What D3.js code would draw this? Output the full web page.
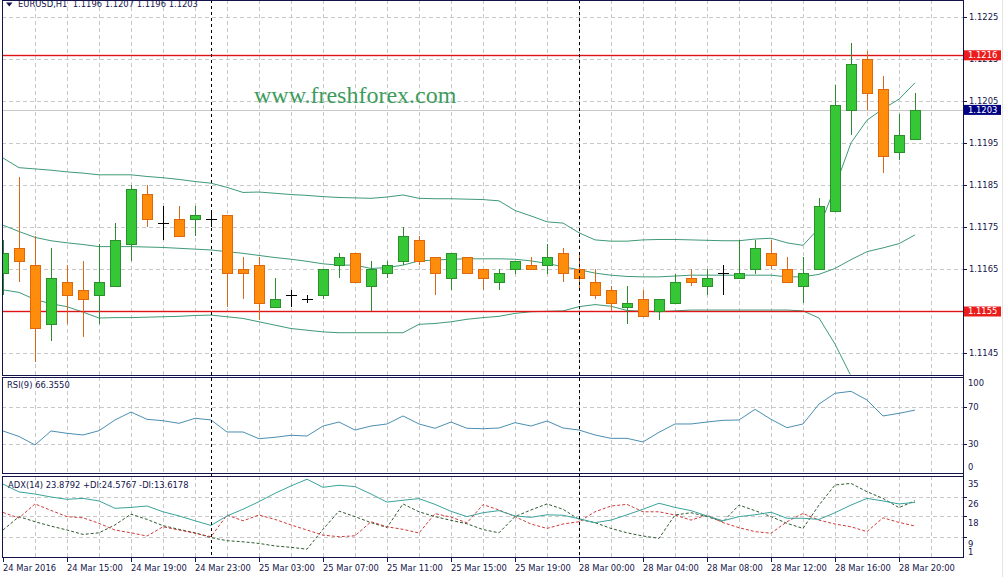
<!DOCTYPE html>
<html><head><meta charset="utf-8">
<script src="https://cdn.jsdelivr.net/npm/d3@7"></script>
<style>html,body{margin:0;padding:0;background:#fff;overflow:hidden}</style>
</head><body>
<svg id="c" width="1005" height="577"></svg>
<script>
// ---------------- DATA ----------------
const symbolTitle = "EURUSD,H1  1.1196 1.1207 1.1196 1.1203";
const rsiTitle = "RSI(9) 66.3550";
const adxTitle = "ADX(14) 23.8792 +DI:24.5767 -DI:13.6178";
const watermark = "www.freshforex.com";

// time axis labels, one every 4 hourly bars (bar index 0,4,8,...)
const timeLabels = ["24 Mar 2016","24 Mar 15:00","24 Mar 19:00","24 Mar 23:00","25 Mar 03:00",
  "25 Mar 07:00","25 Mar 11:00","25 Mar 15:00","25 Mar 19:00","28 Mar 00:00","28 Mar 04:00",
  "28 Mar 08:00","28 Mar 12:00","28 Mar 16:00","28 Mar 20:00"];
const labelEvery = 4;
const daySeparators = [13, 36];   // bars that open a new day (25 Mar 00:00, 28 Mar 00:00)

const open = [1.1164,1.1170,1.1166,1.1152,1.1162,1.1160,1.1159,1.1161,1.1171,1.1183,
  1.1176,1.1177,1.1177,1.1177,1.1178,1.1165,1.1166,1.1156,1.1159,1.1158,
  1.1159,1.1166,1.1169,1.1161,1.1164,1.1167,1.1172,1.1168,1.1163,1.1168,
  1.1165,1.1162,1.1165,1.1166,1.1166,1.1169,1.1165,1.1162,1.1160,1.1156,
  1.1158,1.1155,1.1157,1.1163,1.1161,1.1164,1.1163,1.1165,1.1169,1.1165,
  1.1161,1.1165,1.1179,1.1203,1.1215,1.1208,1.1193,1.1196];
const high = [1.1172,1.1187,1.1173,1.1170,1.1166,1.1167,1.1171,1.1176,1.1185,1.1185,
  1.1180,1.1180,1.1180,1.1179,1.1178,1.1168,1.1168,1.1163,1.1160,1.1159,
  1.1165,1.1169,1.1169,1.1167,1.1167,1.1175,1.1173,1.1168,1.1169,1.1168,
  1.1165,1.1165,1.1167,1.1168,1.1171,1.1170,1.1169,1.1165,1.1161,1.1161,
  1.1160,1.1158,1.1164,1.1165,1.1165,1.1166,1.1172,1.1172,1.1172,1.1168,
  1.1168,1.1182,1.1209,1.1219,1.1217,1.1211,1.1202,1.1207];
const low = [1.1159,1.1162,1.1143,1.1148,1.1152,1.1149,1.1152,1.1161,1.1167,1.1175,
  1.1172,1.1173,1.1173,1.1175,1.1156,1.1158,1.1153,1.1156,1.1156,1.1157,
  1.1158,1.1163,1.1162,1.1155,1.1163,1.1166,1.1166,1.1159,1.1160,1.1164,
  1.1160,1.1160,1.1164,1.1165,1.1164,1.1162,1.1160,1.1158,1.1155,1.1152,
  1.1154,1.1153,1.1157,1.1161,1.1159,1.1159,1.1163,1.1164,1.1165,1.1162,
  1.1157,1.1165,1.1179,1.1197,1.1203,1.1188,1.1191,1.1196];
const close = [1.1169,1.1167,1.1151,1.1163,1.1159,1.1158,1.1162,1.1172,1.1184,1.1177,
  1.1176,1.1173,1.1178,1.1177,1.1164,1.1164,1.1157,1.1158,1.1159,1.1158,
  1.1165,1.1168,1.1162,1.1165,1.1166,1.1173,1.1167,1.1164,1.1169,1.1164,
  1.1163,1.1164,1.1167,1.1165,1.1168,1.1164,1.1163,1.1159,1.1157,1.1157,
  1.1154,1.1158,1.1162,1.1162,1.1163,1.1164,1.1164,1.1170,1.1166,1.1162,
  1.1164,1.1180,1.1204,1.1214,1.1207,1.1192,1.1197,1.1203];

const bbUpper = [1.11915,1.11892,1.11889,1.11886,1.11882,1.11879,1.11875,1.11875,1.11875,1.11871,
  1.11868,1.11864,1.11859,1.11855,1.11845,1.11833,1.11834,1.11831,1.11828,1.11826,
  1.11823,1.11821,1.11820,1.11819,1.11822,1.11827,1.11819,1.11818,1.11818,1.11817,
  1.11816,1.11813,1.11790,1.11777,1.11763,1.11760,1.11737,1.11720,1.11717,1.11717,
  1.11720,1.11721,1.11721,1.11720,1.11719,1.11718,1.11718,1.11722,1.11724,1.11713,
  1.11707,1.11748,1.11846,1.11951,1.12005,1.12032,1.12055,1.12094];
const bbMiddle = [1.11755,1.11740,1.11726,1.11718,1.11713,1.11709,1.11704,1.11704,1.11704,1.11703,
  1.11702,1.11700,1.11698,1.11696,1.11692,1.11688,1.11683,1.11678,1.11674,1.11669,
  1.11663,1.11660,1.11660,1.11652,1.11654,1.11660,1.11670,1.11672,1.11674,1.11675,
  1.11675,1.11675,1.11674,1.11670,1.11664,1.11656,1.11649,1.11641,1.11636,1.11633,
  1.11632,1.11632,1.11634,1.11636,1.11636,1.11636,1.11636,1.11636,1.11636,1.11632,
  1.11632,1.11638,1.11652,1.11673,1.11692,1.11701,1.11711,1.11732];
const bbLower = [1.11601,1.11595,1.11578,1.11568,1.11561,1.11548,1.11534,1.11535,1.11535,1.11536,
  1.11537,1.11538,1.11540,1.11541,1.11537,1.11533,1.11525,1.11517,1.11509,1.11505,
  1.11501,1.11499,1.11499,1.11499,1.11499,1.11499,1.11519,1.11521,1.11525,1.11531,
  1.11535,1.11538,1.11545,1.11549,1.11550,1.11551,1.11561,1.11566,1.11562,1.11552,
  1.11550,1.11549,1.11551,1.11553,1.11553,1.11553,1.11553,1.11553,1.11553,1.11553,
  1.11551,1.11534,1.11472,1.11396,1.11378,1.11370,1.11367,1.11369];

const rsi = [44.0,38.1,29.0,44.0,41.5,39.7,44.3,55.8,64.3,56.5,
  55.0,52.2,57.6,55.8,42.9,42.9,35.7,37.2,39.4,38.6,
  49.3,53.6,45.0,49.3,51.5,60.1,51.5,46.9,53.6,46.9,
  46.4,47.2,52.9,49.3,54.7,47.2,45.0,39.7,36.1,36.1,
  32.2,42.6,51.5,51.5,53.6,55.4,55.8,67.2,56.5,47.5,
  51.5,72.9,84.4,86.5,77.2,60.1,62.9,66.355];
const adx = [31.8,28.4,27.5,26.2,25.2,25.6,24.5,21.3,21.7,22.3,
  19.8,18.0,15.9,13.9,18.0,20.9,24.2,27.8,31.0,33.9,
  30.4,31.3,30.7,27.5,24.0,24.8,25.5,23.0,20.0,17.7,
  19.4,20.3,18.0,17.4,18.5,18.3,16.8,15.1,16.2,18.5,
  20.9,23.5,21.7,20.3,18.0,15.9,17.7,18.5,19.6,17.0,
  17.0,16.5,19.4,22.7,25.6,24.5,23.2,23.8792];
const plusDI = [11.9,17.7,15.5,13.6,11.9,10.0,10.7,14.1,18.8,16.5,
  13.8,12.2,10.7,8.6,7.3,6.8,6.1,5.0,4.4,3.6,
  12.2,20.1,17.7,15.1,13.0,23.2,19.8,17.7,16.1,14.6,
  12.1,10.7,17.7,20.6,23.2,20.9,16.5,15.1,12.6,10.7,
  9.3,8.3,18.4,19.4,17.7,15.5,22.7,20.3,17.7,14.8,
  12.6,22.7,31.4,32.1,28.5,25.6,21.6,24.5767];
const minusDI = [19.5,17.1,23.2,20.4,17.7,17.2,14.8,11.9,10.7,9.3,
  13.3,11.9,10.5,9.0,18.4,15.9,18.4,16.5,14.1,11.9,
  9.7,9.0,9.4,15.5,13.3,12.2,10.6,19.0,17.5,15.0,
  22.9,20.6,17.7,14.5,12.6,14.5,15.5,19.8,22.3,23.0,
  19.8,19.8,18.4,16.2,18.4,15.1,12.9,11.2,10.5,15.5,
  19.1,16.2,14.5,13.3,11.2,17.2,15.2,13.6178];

const priceTicks = [1.1225,1.1215,1.1205,1.1195,1.1185,1.1175,1.1165,1.1155,1.1145];
const rsiTicks = [100,70,30,0];
const rsiGrid = [70,30];
const adxTicks = [35,26,18,9,1];
const adxGrid = [26,18,9];
const levelLines = [1.1216, 1.1155];
const bidPrice = 1.1203;

// ---------------- LAYOUT ----------------
const L = 2, R = 963;
const main = {top: 0, bottom: 374.5};
const rsiP = {top: 376.5, bottom: 473};
const adxP = {top: 475.5, bottom: 557};
const FONT = "'DejaVu Sans', Verdana, sans-serif";
const navy = "#14144a";

const svg = d3.select("#c");
const x = d3.scaleLinear().domain([0, 60]).range([3, 963]);
const y = d3.scaleLinear().domain([1.1225, 1.1145]).range([17.3, 353.3]);
const yR = d3.scaleLinear().domain([0, 100]).range([472, 378.75]);
const yA = d3.scaleLinear().domain([0, 35.3]).range([557.5, 476]);
const n = close.length;
const idx = d3.range(n);

const defs = svg.append("defs");
[["cm", main], ["cr", rsiP], ["ca", adxP]].forEach(([id, p]) => {
  defs.append("clipPath").attr("id", id).append("rect")
    .attr("x", L).attr("y", p.top).attr("width", R - L).attr("height", p.bottom - p.top);
});

// ---------- grids ----------
const grid = svg.append("g").attr("stroke", "#c8c8c8").attr("stroke-dasharray", "4,3")
  .attr("shape-rendering", "crispEdges");
const vgrid = d3.range(2, 61, 2).filter(i => x(i) < R);
[main, rsiP, adxP].forEach(p => {
  grid.selectAll(null).data(vgrid).enter().append("line")
    .attr("x1", d => Math.round(x(d)) + 0.5).attr("x2", d => Math.round(x(d)) + 0.5)
    .attr("y1", p.top).attr("y2", p.bottom);
});
grid.selectAll(null).data(priceTicks).enter().append("line")
  .attr("x1", L).attr("x2", R).attr("y1", d => Math.round(y(d)) + 0.5).attr("y2", d => Math.round(y(d)) + 0.5);
grid.selectAll(null).data(rsiGrid).enter().append("line")
  .attr("x1", L).attr("x2", R).attr("y1", d => Math.round(yR(d)) + 0.5).attr("y2", d => Math.round(yR(d)) + 0.5);
grid.selectAll(null).data(adxGrid).enter().append("line")
  .attr("x1", L).attr("x2", R).attr("y1", d => Math.round(yA(d)) + 0.5).attr("y2", d => Math.round(yA(d)) + 0.5);

// ---------- watermark ----------
svg.append("text").attr("x", 254).attr("y", 103)
  .attr("font-family", "'Liberation Serif', 'Times New Roman', serif").attr("font-size", 24)
  .attr("fill", "#3d9c5c").text(watermark);

// ---------- main panel content ----------
const gm = svg.append("g").attr("clip-path", "url(#cm)");
// bid line
gm.append("line").attr("x1", L).attr("x2", R)
  .attr("y1", Math.round(y(bidPrice)) + 0.5).attr("y2", Math.round(y(bidPrice)) + 0.5)
  .attr("stroke", "#c8c8c8").attr("shape-rendering", "crispEdges");
// Bollinger bands
const bbColor = "#3f9a76";
[bbUpper, bbMiddle, bbLower].forEach(arr => {
  gm.append("path").datum(arr)
    .attr("d", d3.line().x((d, i) => x(i)).y(d => y(d)))
    .attr("fill", "none").attr("stroke", bbColor).attr("stroke-width", 1);
});
// level lines (horizontal red lines)
levelLines.forEach(p => {
  gm.append("rect").attr("x", L).attr("width", R - L)
    .attr("y", Math.round(y(p)) - 0.2).attr("height", 1.4)
    .attr("fill", "#e01414");
});

// candles
const bull = {fill: "#35c735", stroke: "#2b8f2b", wick: "#2f8a2f"};
const bear = {fill: "#ff8c0a", stroke: "#e0680c", wick: "#d8681a"};
const candles = gm.append("g").attr("shape-rendering", "crispEdges");
idx.forEach(i => {
  const cx = Math.round(x(i));
  const o = open[i], c = close[i];
  const doji = Math.abs(o - c) < 1e-9;
  const st = c > o ? bull : bear;
  const wickColor = doji ? "#000" : st.wick;
  candles.append("line").attr("x1", cx + 0.5).attr("x2", cx + 0.5)
    .attr("y1", y(high[i])).attr("y2", y(low[i])).attr("stroke", wickColor);
  if (doji) {
    candles.append("line").attr("x1", cx - 5).attr("x2", cx + 6)
      .attr("y1", Math.round(y(o)) + 0.5).attr("y2", Math.round(y(o)) + 0.5).attr("stroke", "#000");
  } else {
    const t = y(Math.max(o, c)), b = y(Math.min(o, c));
    candles.append("rect").attr("x", cx - 4.5).attr("width", 10)
      .attr("y", Math.round(t) + 0.5).attr("height", Math.max(1, Math.round(b) - Math.round(t)))
      .attr("fill", st.fill).attr("stroke", st.stroke);
  }
});

// ---------- RSI panel ----------
const gr = svg.append("g").attr("clip-path", "url(#cr)");
gr.append("path").datum(rsi)
  .attr("d", d3.line().x((d, i) => x(i)).y(d => yR(d)))
  .attr("fill", "none").attr("stroke", "#4a8fb0").attr("stroke-width", 1);

// ---------- ADX panel ----------
const ga = svg.append("g").attr("clip-path", "url(#ca)");
ga.append("path").datum(plusDI)
  .attr("d", d3.line().x((d, i) => x(i)).y(d => yA(d)))
  .attr("fill", "none").attr("stroke", "#2f5a2f").attr("stroke-dasharray", "3,2");
ga.append("path").datum(minusDI)
  .attr("d", d3.line().x((d, i) => x(i)).y(d => yA(d)))
  .attr("fill", "none").attr("stroke", "#d03a3a").attr("stroke-dasharray", "3,2");
ga.append("path").datum(adx)
  .attr("d", d3.line().x((d, i) => x(i)).y(d => yA(d)))
  .attr("fill", "none").attr("stroke", "#3aa39c").attr("stroke-width", 1);

// ---------- day separators ----------
svg.append("g").selectAll("line").data(daySeparators).enter().append("line")
  .attr("x1", d => Math.round(x(d)) + 0.5).attr("x2", d => Math.round(x(d)) + 0.5)
  .attr("y1", 0).attr("y2", adxP.bottom)
  .attr("stroke", "#000").attr("stroke-dasharray", "3,3").attr("shape-rendering", "crispEdges");

// ---------- frames ----------
const frames = svg.append("g").attr("fill", "none").attr("stroke", navy).attr("shape-rendering", "crispEdges");
[main, rsiP, adxP].forEach(p => {
  frames.append("rect").attr("x", L + 0.5).attr("y", p.top + 0.5)
    .attr("width", R - L).attr("height", p.bottom - p.top);
});
frames.append("line").attr("x1", R + 0.5).attr("x2", R + 0.5).attr("y1", 0).attr("y2", adxP.bottom + 0.5);
svg.append("line").attr("x1", 1002.5).attr("x2", 1002.5).attr("y1", 0).attr("y2", 577)
  .attr("stroke", "#e4e4e4");

// ---------- right axes ----------
const ax = svg.append("g").attr("font-family", FONT).attr("font-size", 8.4).attr("fill", navy);
const tick = (yy) => ax.append("line").attr("x1", R).attr("x2", R + 4)
  .attr("y1", Math.round(yy) + 0.5).attr("y2", Math.round(yy) + 0.5)
  .attr("stroke", navy).attr("shape-rendering", "crispEdges");
// a price label fully hidden behind a level box is not drawn (as in the reference)
const hidden = p => levelLines.some(l => Math.abs(l - p) < 0.00005);
priceTicks.forEach(p => {
  tick(y(p));
  if (!hidden(p)) ax.append("text").attr("x", 969).attr("y", y(p)).attr("dy", "0.35em").text(p.toFixed(4));
});
rsiGrid.forEach(v => tick(yR(v)));
rsiTicks.forEach(v => {
  const yy = Math.max(rsiP.top + 6.5, Math.min(rsiP.bottom - 5.5, yR(v)));
  ax.append("text").attr("x", 968).attr("y", yy).attr("dy", "0.35em").text(v);
});
adxGrid.forEach(v => tick(yA(v)));
adxTicks.forEach(v => {
  const yy = Math.max(adxP.top + 7, Math.min(adxP.bottom - 5, yA(v) + 7));
  ax.append("text").attr("x", 968).attr("y", yy).attr("dy", "0.35em").text(v);
});

// level labels (boxes)
const box = (price, bg) => {
  const yy = y(price);
  svg.append("rect").attr("x", 964).attr("y", yy - 4.8).attr("width", 37).attr("height", 10)
    .attr("fill", bg);
  svg.append("text").attr("x", 968).attr("y", yy).attr("dy", "0.36em")
    .attr("font-family", FONT).attr("font-size", 8.4).attr("fill", "#fff").text(price.toFixed(4));
};
levelLines.forEach(p => box(p, "#ea1c1c"));
box(bidPrice, "#000080");

// ---------- time axis ----------
const tg = svg.append("g").attr("font-family", FONT).attr("font-size", 8.4).attr("fill", navy);
timeLabels.forEach((t, k) => {
  const xi = Math.round(x(k * labelEvery));
  tg.append("line").attr("x1", xi + 0.5).attr("x2", xi + 0.5).attr("y1", adxP.bottom).attr("y2", adxP.bottom + 5)
    .attr("stroke", navy).attr("shape-rendering", "crispEdges");
  tg.append("text").attr("x", xi).attr("y", 570.5).text(t);
});

// ---------- titles ----------
svg.append("path").attr("d", "M6,2.5 L12.5,2.5 L9.25,6.5 Z").attr("fill", navy);
const tt = svg.append("g").attr("font-family", FONT).attr("font-size", 8.4).attr("fill", navy);
tt.append("text").attr("x", 18).attr("y", 7).attr("xml:space", "preserve").text(symbolTitle);
tt.append("text").attr("x", 7).attr("y", 385.5).attr("dy", "0.35em").text(rsiTitle);
tt.append("text").attr("x", 8).attr("y", 485).attr("dy", "0.35em").text(adxTitle);
</script>
</body></html>
